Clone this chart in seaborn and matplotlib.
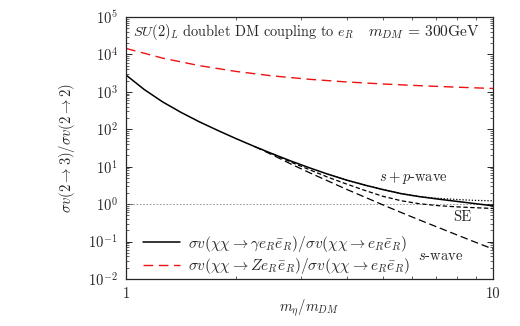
import numpy as np
import pandas as pd
import seaborn as sns
import matplotlib.pyplot as plt
from matplotlib.ticker import LogLocator, NullFormatter, FixedLocator

# x = m_eta / m_DM, sampled evenly in log10(x)
x_grid = [1.0, 1.122, 1.259, 1.413, 1.585, 1.778, 1.995, 2.239, 2.512, 2.818, 3.162,
          3.548, 3.981, 4.467, 5.012, 5.623, 6.31, 7.079, 7.943, 8.913, 10.0]

# full calculation (solid black)
full = [2818, 1148, 537, 282, 158, 93.3, 56.2, 34.7, 21.9, 14.1, 9.33,
        6.31, 4.42, 3.24, 2.45, 1.905, 1.585, 1.365, 1.189, 1.035, 0.902]

# s+p-wave (dotted), from x_grid[11]
sp_wave = [6.31, 4.42, 3.24, 2.45, 1.905, 1.585, 1.429, 1.334, 1.259, 1.23]

# Sommerfeld enhanced (short dash), from x_grid[8]
se = [21.9, 13.18, 8.32, 5.25, 3.47, 2.34, 1.62, 1.23, 1.023, 0.912, 0.847, 0.803, 0.767]

# s-wave only (long dash), from x_grid[7]
s_wave = [34.7, 20.4, 11.7, 6.92, 4.17, 2.51, 1.55, 0.955, 0.596, 0.376, 0.240, 0.153, 0.0977, 0.0631]

# Z e_R e_R ratio (red dash)
x_z = [1.0, 1.259, 1.585, 1.995, 2.512, 3.162, 3.981, 5.012, 6.31, 7.943, 10.0]
z_ratio = [14450, 7943, 5012, 3508, 2661, 2163, 1841, 1622, 1462, 1334, 1230]

sns.set_style("ticks")
plt.rcParams["font.family"] = ["cmr10", "DejaVu Serif"]
plt.rcParams["mathtext.fontset"] = "cm"
plt.rcParams["axes.formatter.use_mathtext"] = True
plt.rcParams["font.size"] = 10

fig = plt.figure(figsize=(5.2, 3.26), dpi=100)
ax = fig.add_axes([0.2423, 0.1442, 0.7058, 0.8037])

ax.axhline(1.0, color="#888888", lw=0.6, ls=(0, (2, 2)))

sns.lineplot(x=x_z, y=z_ratio, ax=ax, color="#ee1111", lw=1.0, ls=(0, (7, 4)))
sns.lineplot(x=x_grid[11:], y=sp_wave, ax=ax, color="black", lw=0.9, ls=(0, (1, 1.5)))
sns.lineplot(x=x_grid[8:], y=se, ax=ax, color="black", lw=0.9, ls=(0, (3.5, 2)))
sns.lineplot(x=x_grid[7:], y=s_wave, ax=ax, color="black", lw=0.9, ls=(0, (6, 3)))
sns.lineplot(x=x_grid, y=full, ax=ax, color="black", lw=1.1)

ax.set_xscale("log")
ax.set_yscale("log")
ax.set_xlim(1, 10)
ax.set_ylim(1e-2, 1e5)

ax.xaxis.set_major_locator(FixedLocator([1, 10]))
ax.set_xticklabels(["1", "10"])
ax.xaxis.set_minor_locator(FixedLocator(list(range(2, 10))))
ax.xaxis.set_minor_formatter(NullFormatter())
ax.yaxis.set_major_locator(LogLocator(base=10, numticks=20))
ax.yaxis.set_minor_locator(LogLocator(base=10, subs=np.arange(2, 10), numticks=20))
ax.yaxis.set_minor_formatter(NullFormatter())

ax.tick_params(which="both", direction="in", top=True, right=True, labelsize=10.5, pad=6)
ax.tick_params(which="major", length=4, width=0.7)
ax.tick_params(which="minor", length=2, width=0.5)
for sp in ax.spines.values():
    sp.set_linewidth(0.9)

ax.set_xlabel(r"$m_\eta/m_{DM}$", fontsize=10.5, labelpad=-3)
ax.set_ylabel(r"$\sigma v(2\to3)/\sigma v(2\to2)$", fontsize=10.5, labelpad=8)

ax.text(0.019, 0.943, r"$SU(2)_L$ doublet DM coupling to $e_R$", transform=ax.transAxes,
        fontsize=10.3, va="center", ha="left")
ax.text(0.965, 0.943, r"$m_{DM}\,=\,300$GeV", transform=ax.transAxes,
        fontsize=11.2, va="center", ha="right")
ax.text(0.782, 0.385, r"$s+p$-wave", transform=ax.transAxes, fontsize=10.5, ha="center", va="center")
ax.text(0.916, 0.237, "SE", transform=ax.transAxes, fontsize=10.5, ha="center", va="center")
ax.text(0.856, 0.088, r"$s$-wave", transform=ax.transAxes, fontsize=10.5, ha="center", va="center")

lines = ax.get_lines()
red_line = [l for l in lines if l.get_color() == "#ee1111"][0]
full_line = lines[-1]
ax.legend([full_line, red_line],
          [r"$\sigma v(\chi\chi\to\gamma e_R\bar{e}_R)/\sigma v(\chi\chi\to e_R\bar{e}_R)$",
           r"$\sigma v(\chi\chi\to Z e_R\bar{e}_R)/\sigma v(\chi\chi\to e_R\bar{e}_R)$"],
          loc="lower left", bbox_to_anchor=(0.03, -0.012), frameon=False, fontsize=11.1,
          handlelength=2.4, handletextpad=0.5, labelspacing=0.15, borderaxespad=0.0)

fig.savefig("out.png", dpi=100)
